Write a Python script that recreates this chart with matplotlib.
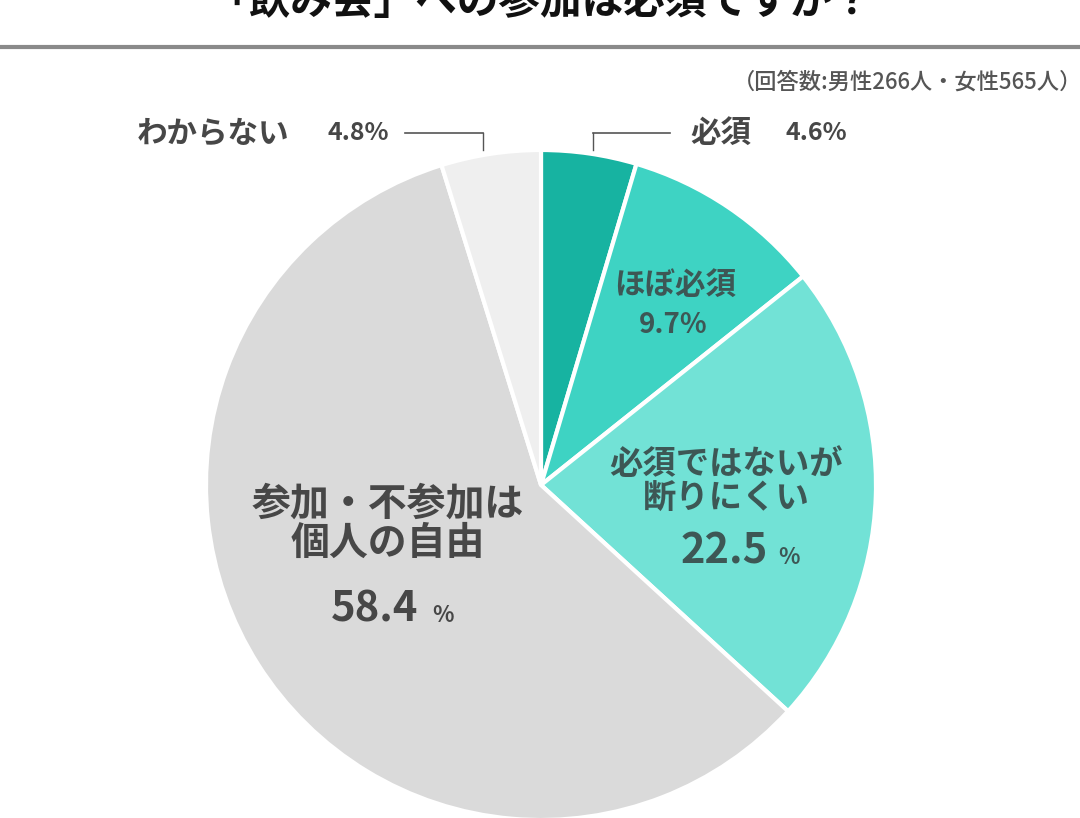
import matplotlib
matplotlib.use('Agg')
import matplotlib.pyplot as plt

plt.rcParams['font.family'] = ['Noto Sans CJK JP', 'DejaVu Sans']

# data (clockwise from 12 o'clock)
labels = ['必須', 'ほぼ必須', '必須ではないが\n断りにくい', '参加・不参加は\n個人の自由', 'わからない']
values = [4.6, 9.7, 22.5, 58.4, 4.8]
colors = ['#17b3a1', '#3ed3c3', '#72e2d6', '#dadada', '#efefef']

title = '「飲み会」への参加は必須ですか？'
note = '（回答数:男性266人・女性565人）'

W, H = 1080, 818
fig = plt.figure(figsize=(W / 100, H / 100), dpi=100)
ax = fig.add_axes([0, 0, 1, 1])
ax.set_xlim(0, W)
ax.set_ylim(0, H)
ax.set_aspect('equal')
ax.axis('off')

def py(y):
    # pixel row from top -> data y
    return H - y

ax.pie(values, colors=colors, startangle=90, counterclock=False,
       center=(541, py(485)), radius=335,
       wedgeprops=dict(edgecolor='white', linewidth=3))
ax.set_xlim(0, W)
ax.set_ylim(0, H)

txt = '#474747'
tin = '#3d5755'

# title (cut off at top in the source image) and rule
ax.text(540, py(2), title, ha='center', va='center', fontsize=30,
        fontweight='bold', color='#111111')
ax.plot([0, W], [py(47), py(47)], color='#8a8a8a', lw=3)
ax.text(733, py(82), note, ha='left', va='center', fontsize=16,
        color='#555555', fontweight='medium')

# outside labels with leader lines
ax.text(137, py(133), labels[4], ha='left', va='center', fontsize=22,
        fontweight='bold', color=txt)
ax.text(327, py(133), f'{values[4]}%', ha='left', va='center', fontsize=18,
        fontweight='bold', color=txt)
ax.plot([405, 483], [py(133), py(133)], color='#555555', lw=1.2)
ax.plot([483, 483], [py(133), py(150)], color='#555555', lw=1)

ax.text(690, py(133), labels[0], ha='left', va='center', fontsize=22,
        fontweight='bold', color=txt)
ax.text(785, py(133), f'{values[0]}%', ha='left', va='center', fontsize=18,
        fontweight='bold', color=txt)
ax.plot([593, 670], [py(133), py(133)], color='#555555', lw=1.2)
ax.plot([593, 593], [py(133), py(150)], color='#555555', lw=1)

# inside labels
ax.text(675, py(285), labels[1], ha='center', va='center', fontsize=22,
        fontweight='bold', color=tin)
ax.text(673, py(325), f'{values[1]}%', ha='center', va='center', fontsize=20,
        fontweight='bold', color=tin)

ax.text(726, py(482), labels[2], ha='center', va='center', fontsize=24,
        fontweight='bold', color=tin, linespacing=1.1)
ax.text(768, py(552), f'{values[2]}', ha='right', va='center', fontsize=30,
        fontweight='bold', color=tin)
ax.text(778, py(558), '%', ha='left', va='center', fontsize=16,
        fontweight='bold', color=tin)

ax.text(388, py(524), labels[3], ha='center', va='center', fontsize=28,
        fontweight='bold', color=txt, linespacing=1.0)
ax.text(418, py(610), f'{values[3]}', ha='right', va='center', fontsize=30,
        fontweight='bold', color=txt)
ax.text(432, py(616), '%', ha='left', va='center', fontsize=16,
        fontweight='bold', color=txt)

fig.savefig('out.png', dpi=100)
